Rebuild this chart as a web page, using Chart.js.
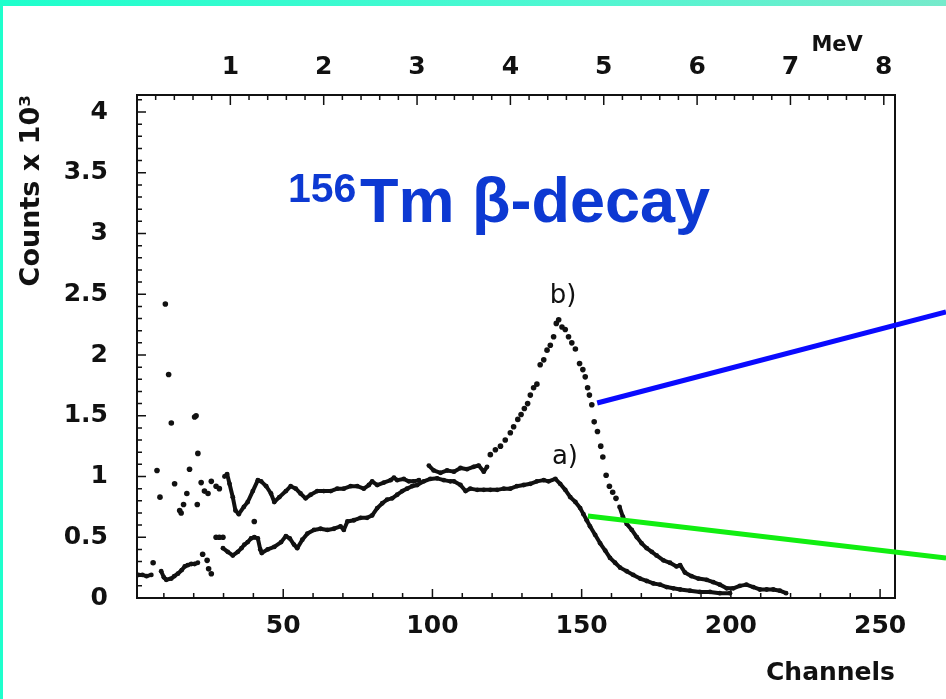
<!DOCTYPE html>
<html>
<head>
<meta charset="utf-8">
<script src="https://cdn.jsdelivr.net/npm/chart.js@4.4.1/dist/chart.umd.min.js"></script>
<style>
  html, body { margin: 0; padding: 0; background: #fff; }
  #wrap { position: relative; width: 946px; height: 699px; overflow: hidden; background: #fff; }
  #spectrumChart { position: absolute; left: 0; top: 0; }
  #topBand { position: absolute; left: 0; top: 0; width: 946px; height: 6px; background: linear-gradient(to right, #1effcc, #4ff7d2 60%, #76eacb); }
  #leftBand { position: absolute; left: 0; top: 0; width: 3px; height: 699px; background: #1effcc; }
</style>
</head>
<body>
<div id="wrap">
  <canvas id="spectrumChart" width="946" height="699"></canvas>
  <div id="topBand"></div>
  <div id="leftBand"></div>
</div>
<script>
// Spektrum a) : bagian awal, naik, dan utama
const aStartCh = [1.5, 2.8, 4.2, 5.8];
const aStartCounts = [0.19, 0.19, 0.18, 0.19];

const aRiseCh = [9.1, 10, 10.8, 12.5, 13.5, 14.7, 16, 17, 18, 19.2, 20.3, 21.4];
const aRiseCounts = [0.22, 0.17, 0.15, 0.16, 0.18, 0.20, 0.23, 0.26, 0.27, 0.28, 0.28, 0.29];

const aMainCh = [29.8, 31.4, 33.1, 34.8, 36, 37, 38.1, 39.2, 40.3, 41.5, 42.3, 42.8, 44.8, 47, 49.3, 50.9,
  52.2, 53.6, 54.7, 56.4, 58.1, 60.3, 62.5, 64.8, 67, 69.2, 70.3, 71.5, 73.7, 75.9, 78.1, 79.8, 81.5,
  83.2, 84.8, 86.5, 88.2, 89.9, 91.5, 93.2, 94.9, 97.1, 99.3, 101.6, 103.8, 106, 107.2, 109.4, 111.1,
  112.7, 115, 117.2, 119.4, 121.7, 123.9, 126.1, 128.3, 130.6, 132.8, 135, 137.3, 138.9, 141.2, 142.8,
  144.5, 146.2, 147.9, 149.5, 150.6, 151.7, 152.8, 154.5, 156.2, 157.9, 159.5, 161.2, 162.9, 165.1,
  167.3, 169.6, 171.8, 174, 176.3, 178.5, 180.7, 183, 186.3, 189.6, 193, 196.3, 199.7];
const aMainCounts = [0.41, 0.38, 0.35, 0.38, 0.41, 0.44, 0.46, 0.49, 0.50, 0.49, 0.40, 0.37, 0.40, 0.42, 0.46, 0.51,
  0.49, 0.44, 0.41, 0.48, 0.53, 0.56, 0.57, 0.56, 0.57, 0.59, 0.56, 0.63, 0.64, 0.66, 0.66, 0.68, 0.74,
  0.78, 0.81, 0.82, 0.85, 0.88, 0.90, 0.92, 0.93, 0.96, 0.98, 0.985, 0.97, 0.96, 0.96, 0.93, 0.88,
  0.90, 0.89, 0.89, 0.89, 0.89, 0.90, 0.90, 0.92, 0.93, 0.94, 0.96, 0.97, 0.96, 0.98, 0.94,
  0.89, 0.83, 0.79, 0.74, 0.69, 0.64, 0.59, 0.52, 0.45, 0.39, 0.33, 0.29, 0.25, 0.22,
  0.19, 0.16, 0.14, 0.12, 0.11, 0.09, 0.08, 0.07, 0.06, 0.05, 0.05, 0.04, 0.04];

// Titik-titik tersebar di kanal rendah
const dotCh = [6.4, 23, 24.5, 25, 25.9, 27.5, 28.6, 29.8, 40.3,
  7.7, 8.7, 10.5, 11.6, 12.5, 13.6, 15.3, 15.8, 16.6, 17.7, 18.6, 20.3, 20.8, 21.4, 21.2, 22.5, 23.6, 24.8, 25.9, 27.5, 28.6];
const dotCounts = [0.29, 0.36, 0.31, 0.24, 0.20, 0.50, 0.50, 0.50, 0.63,
  1.05, 0.83, 2.42, 1.84, 1.44, 0.94, 0.72, 0.70, 0.77, 0.86, 1.06, 1.49, 1.50, 1.19, 0.77, 0.95, 0.88, 0.86, 0.96, 0.92, 0.90];

// Spektrum b)
const bMainCh = [30.3, 31.2, 32, 33.1, 34, 35.1, 36.8, 38.1, 39.8, 41.5, 42.6, 44.3, 45.9, 47, 48.7, 50.9,
  52.5, 54.2, 55.8, 57.5, 59.2, 61.4, 63.6, 65.9, 68.1, 70.3, 72.6, 74.8, 77, 78.7, 79.8, 81.5, 83.7,
  86, 87.1, 88.2, 90.4, 92.1, 93.7, 95.5];
const bMainCounts = [1.00, 1.02, 0.94, 0.83, 0.72, 0.69, 0.75, 0.79, 0.88, 0.97, 0.96, 0.92, 0.86, 0.79, 0.83, 0.88,
  0.92, 0.90, 0.86, 0.82, 0.85, 0.88, 0.88, 0.88, 0.90, 0.90, 0.92, 0.92, 0.90, 0.93, 0.96, 0.93, 0.95,
  0.97, 0.99, 0.97, 0.98, 0.96, 0.96, 0.97];

const bShelfCh = [98.8, 100.4, 102.7, 104.9, 107.2, 109.4, 111.6, 113.8, 115.5, 117.2, 118.3];
const bShelfCounts = [1.09, 1.05, 1.03, 1.05, 1.04, 1.07, 1.06, 1.08, 1.09, 1.04, 1.08];

const bPeakCh = [119.4, 121.1, 122.8, 124.4, 126.1, 127.2, 128.6, 129.7, 130.8, 131.9, 132.8, 133.9, 135,
  136.1, 137.3, 138.4, 139.5, 140.6, 141.5, 142.3, 143.4, 144.5, 145.6, 146.7, 147.9, 149.3, 150.4,
  151.2, 152, 152.6, 153.4, 154.2, 155.3, 156.4, 157.1, 158.2, 159.3, 160.4, 161.5];
const bPeakCounts = [1.18, 1.22, 1.25, 1.30, 1.36, 1.41, 1.47, 1.51, 1.56, 1.60, 1.67, 1.73, 1.76,
  1.92, 1.96, 2.04, 2.08, 2.15, 2.26, 2.29, 2.23, 2.21, 2.15, 2.10, 2.05, 1.93, 1.88,
  1.82, 1.73, 1.67, 1.59, 1.45, 1.37, 1.25, 1.16, 1.01, 0.92, 0.87, 0.82];

const bTailCh = [162.7, 163.8, 165.1, 166.8, 168.5, 170.1, 171.8, 173.5, 175.1, 177.4, 179.6, 181.8, 183,
  184.6, 186.8, 189.1, 191.9, 194.1, 196.3, 198.6, 200.8, 203, 205.2, 207.5, 209.7, 212, 214.2, 216.4, 218.5];
const bTailCounts = [0.75, 0.67, 0.61, 0.56, 0.50, 0.45, 0.41, 0.38, 0.35, 0.31, 0.29, 0.26, 0.27,
  0.21, 0.18, 0.16, 0.15, 0.13, 0.11, 0.08, 0.08, 0.10, 0.11, 0.09, 0.07, 0.07, 0.07, 0.06, 0.04];

// Garis penunjuk berwarna
const blueCh = [155.2, 272.1];
const blueCounts = [1.605, 2.354];
const greenCh = [152.1, 272.1];
const greenCounts = [0.675, 0.33];

// Label puncak
const peakLabels = ['b)', 'a)'];
const peakLabelCh = [143.8, 144.4];
const peakLabelCounts = [2.48, 1.16];

function toPoints(xs, ys) {
    return xs.map((x, i) => ({ x: x, y: ys[i] }));
}

const ink = '#111111';

function lineSet(xs, ys) {
    return {
        data: toPoints(xs, ys),
        showLine: true,
        borderColor: ink,
        borderWidth: 4,
        borderJoinStyle: 'round',
        pointRadius: 2.4,
        pointBackgroundColor: ink,
        pointBorderWidth: 0
    };
}

function dotSet(xs, ys) {
    return {
        data: toPoints(xs, ys),
        showLine: false,
        pointRadius: 2.8,
        pointBackgroundColor: ink,
        pointBorderWidth: 0
    };
}

function pointerSet(xs, ys, color) {
    return {
        data: toPoints(xs, ys),
        showLine: true,
        borderColor: color,
        borderWidth: 5,
        pointRadius: 0,
        clip: false
    };
}

// Bingkai dan tanda tick ke dalam
const frameTicks = {
    id: 'frameTicks',
    beforeDatasetsDraw(chart) {
        const { ctx, chartArea: a, scales } = chart;
        ctx.save();
        ctx.strokeStyle = ink;
        ctx.lineWidth = 2;
        ctx.strokeRect(a.left, a.top, a.right - a.left, a.bottom - a.top);
        ctx.lineWidth = 1.5;
        ctx.beginPath();
        for (let i = 1; i <= 41; i++) {
            const yy = scales.y.getPixelForValue(i / 10);
            const len = i % 5 === 0 ? 9 : 5;
            ctx.moveTo(a.left, yy);
            ctx.lineTo(a.left + len, yy);
        }
        for (let c = 10; c <= 250; c += 10) {
            const xx = scales.x.getPixelForValue(c);
            const len = c % 50 === 0 ? 9 : 5;
            ctx.moveTo(xx, a.bottom);
            ctx.lineTo(xx, a.bottom - len);
        }
        for (let i = 1; i <= 40; i++) {
            const xx = scales.xMeV.getPixelForValue(i / 5);
            const len = i % 5 === 0 ? 10 : 5;
            ctx.moveTo(xx, a.top);
            ctx.lineTo(xx, a.top + len);
        }
        ctx.stroke();
        ctx.restore();
    }
};

// Teks tambahan: judul, label puncak, satuan MeV
const textLayer = {
    id: 'textLayer',
    afterDraw(chart) {
        const { ctx, scales } = chart;
        ctx.save();
        ctx.fillStyle = ink;
        ctx.textAlign = 'center';
        ctx.textBaseline = 'middle';
        ctx.font = '26px "DejaVu Sans"';
        peakLabels.forEach((t, i) => {
            ctx.fillText(t, scales.x.getPixelForValue(peakLabelCh[i]), scales.y.getPixelForValue(peakLabelCounts[i]));
        });
        ctx.font = 'bold 21px "DejaVu Sans"';
        ctx.fillText('MeV', scales.xMeV.getPixelForValue(7.5), 46);

        ctx.fillStyle = '#0d39d2';
        ctx.textAlign = 'left';
        ctx.textBaseline = 'alphabetic';
        ctx.font = 'bold 41px "Liberation Sans", Arial, sans-serif';
        ctx.fillText('156', 288, 202);
        ctx.font = 'bold 63px "Liberation Sans", Arial, sans-serif';
        ctx.fillText('Tm β-decay', 360, 222);
        ctx.restore();
    }
};

Chart.defaults.font.family = '"DejaVu Sans", sans-serif';
Chart.defaults.font.weight = 'bold';
Chart.defaults.color = ink;

const ctx = document.getElementById('spectrumChart');
window.spectrumChart = new Chart(ctx, {
    type: 'scatter',
    data: {
        datasets: [
            pointerSet(blueCh, blueCounts, '#0a0aff'),
            pointerSet(greenCh, greenCounts, '#11ee11'),
            lineSet(aStartCh, aStartCounts),
            lineSet(aRiseCh, aRiseCounts),
            lineSet(aMainCh, aMainCounts),
            dotSet(dotCh, dotCounts),
            lineSet(bMainCh, bMainCounts),
            lineSet(bShelfCh, bShelfCounts),
            dotSet(bPeakCh, bPeakCounts),
            lineSet(bTailCh, bTailCounts)
        ]
    },
    options: {
        responsive: false,
        animation: false,
        events: [],
        layout: { padding: { left: 0, right: 51, top: 0, bottom: 0 } },
        plugins: {
            legend: { display: false },
            tooltip: { enabled: false }
        },
        scales: {
            x: {
                type: 'linear',
                position: 'bottom',
                min: 1,
                max: 255,
                grid: { display: false, drawTicks: false },
                border: { display: false },
                ticks: {
                    stepSize: 50,
                    includeBounds: false,
                    padding: 13,
                    maxRotation: 0,
                    font: { size: 25, weight: 'bold' },
                    callback: v => (v % 50 === 0 ? v : '')
                },
                title: {
                    display: true,
                    text: 'Channels',
                    align: 'end',
                    font: { size: 25, weight: 'bold' },
                    padding: { top: 0, bottom: 11 }
                },
                afterFit: s => { s.height = 101; }
            },
            xMeV: {
                type: 'linear',
                position: 'top',
                min: 0,
                max: 8.12,
                grid: { display: false, drawTicks: false },
                border: { display: false },
                ticks: {
                    stepSize: 1,
                    includeBounds: false,
                    padding: 13,
                    maxRotation: 0,
                    font: { size: 25, weight: 'bold' },
                    callback: v => (v === 0 ? '' : v)
                },
                afterFit: s => { s.height = 95; }
            },
            y: {
                type: 'linear',
                position: 'left',
                min: 0,
                max: 4.14,
                grid: { display: false, drawTicks: false },
                border: { display: false },
                ticks: {
                    stepSize: 0.5,
                    includeBounds: false,
                    padding: 29,
                    font: { size: 25, weight: 'bold' },
                    callback: v => Math.round(v * 10) / 10
                },
                title: {
                    display: true,
                    text: 'Counts x 10³',
                    align: 'end',
                    font: { size: 27, weight: 'bold' },
                    padding: { top: 16, bottom: 0 }
                },
                afterFit: s => { s.width = 137; }
            }
        }
    },
    plugins: [frameTicks, textLayer]
});
</script>
</body>
</html>
